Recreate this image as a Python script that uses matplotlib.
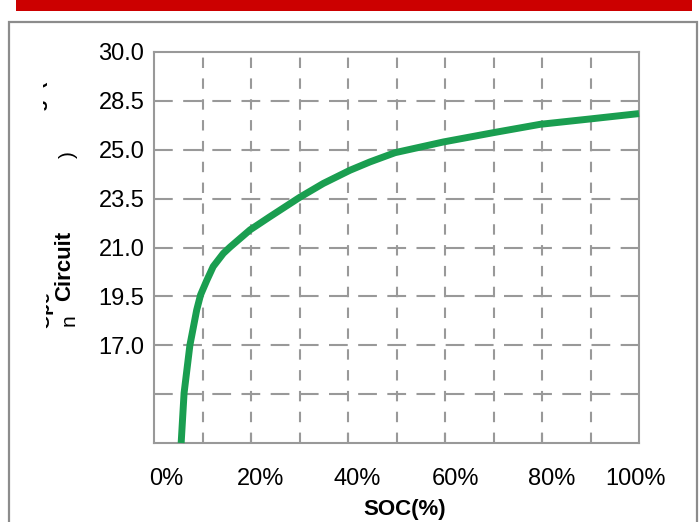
import matplotlib
matplotlib.use("Agg")
import matplotlib.pyplot as plt
from matplotlib.patches import Rectangle

plt.rcParams['font.family'] = ['Liberation Sans', 'DejaVu Sans']

# Data (x in grid units of SOC, y in grid-line units of the labelled axis)
soc = [5.6, 6.2, 7.4, 8.8, 9.6, 10.9, 12.2, 14.3, 15.7, 19.8, 23.9, 30.1, 34.9,
       40.4, 44.5, 49.7, 59.7, 70.0, 79.6, 89.9, 100.0]
level = [0.0, 1.02, 2.0, 2.72, 3.03, 3.33, 3.61, 3.88, 4.01, 4.36, 4.63, 5.03, 5.31,
         5.58, 5.75, 5.94, 6.16, 6.35, 6.52, 6.63, 6.74]

x_tick_labels = ['0%', '20%', '40%', '60%', '80%', '100%']
x_tick_pos = [2.5, 22.0, 41.9, 62.1, 82.1, 99.2]
y_tick_labels = ['17.0', '19.5', '21.0', '23.5', '25.0', '28.5', '30.0']
y_tick_pos = [2, 3, 4, 5, 6, 7, 8]

fig = plt.figure(figsize=(6.99, 5.22), dpi=100)
fig.patch.set_facecolor('white')

# red band and gray frame
fig.patches.append(Rectangle((16/699, 1-11/522), (692-16)/699, 11/522 + 0.01,
                             transform=fig.transFigure, facecolor='#cc0000', edgecolor='none'))
fig.patches.append(Rectangle((9/699, -0.05), (697-9)/699, (1-22/522) + 0.05,
                             transform=fig.transFigure, facecolor='none', edgecolor='#8c8c8c', lw=1.6))

ax = fig.add_axes([154/699, 1-443/522, (639-154)/699, (443-52)/522])
ax.set_xlim(0, 100)
ax.set_ylim(0, 8)

# grid
for gx in range(10, 100, 10):
    ax.axvline(gx, color='#999999', lw=1.5, ls=(0, (5, 5)), zorder=1)
for gy in range(1, 8):
    ax.axhline(gy, color='#999999', lw=1.5, ls=(0, (9, 5)), zorder=1)

ax.plot(soc, level, color='#1a9e50', lw=5, solid_capstyle='butt', solid_joinstyle='round', zorder=3, clip_on=False)

for s in ax.spines.values():
    s.set_color('#999999')
    s.set_linewidth(1.5)

ax.set_xticks(x_tick_pos)
ax.set_xticklabels(x_tick_labels, fontsize=17)
ax.set_yticks(y_tick_pos)
ax.set_yticklabels(y_tick_labels, fontsize=17)
ax.tick_params(axis='both', length=0)
ax.tick_params(axis='x', pad=18)
ax.tick_params(axis='y', pad=7)

# inward minor ticks on bottom
ax.set_xticks([20, 40, 60, 80], minor=True)
ax.tick_params(axis='x', which='minor', direction='in', length=7, width=1.5, color='#999999')

# x label
fig.text(405/699, 1-520/522, 'SOC(%)', ha='center', va='bottom', fontsize=16, fontweight='bold')

# broken y label fragments
fig.text(65/699, 1-266/522, 'Circuit', rotation=90, ha='center', va='center', fontsize=16, fontweight='bold')
fig.text(68/699, 1-155/522, ')', rotation=90, ha='center', va='center', fontsize=15)
fig.text(69/699, 1-320/522, 'n', rotation=90, ha='center', va='center', fontsize=15)

t1 = fig.text(39/699, 1-112/522, 'Voltage(V', rotation=90, ha='center', va='center', fontsize=14, fontweight='bold')
t1.set_clip_path(Rectangle((43/699, 0), 0.03, 1, transform=fig.transFigure))
t2 = fig.text(45/699, 1-310/522, 'Ope', rotation=90, ha='center', va='center', fontsize=14, fontweight='bold')
t2.set_clip_path(Rectangle((46/699, 0), 0.03, 1, transform=fig.transFigure))

fig.savefig('out.png', dpi=100)
